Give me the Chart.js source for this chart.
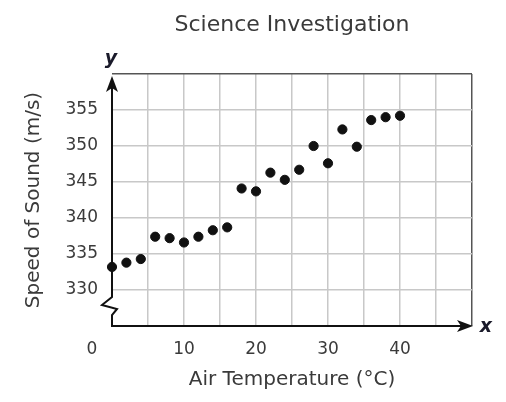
<!DOCTYPE html>
<html>
<head>
<meta charset="utf-8">
<script src="https://cdn.jsdelivr.net/npm/chart.js@4/dist/chart.umd.min.js"></script>
<style>
    body { margin: 0; background: #fff; }
    #wrap { width: 506px; height: 402px; position: relative; }
</style>
</head>
<body>
<div id="wrap"><canvas id="chart"></canvas></div>
<script>
    const airTemp = [0, 2, 4, 6, 8, 10, 12, 14, 16, 18, 20, 22, 24, 26, 28, 30, 32, 34, 36, 38, 40];
    const soundSpeed = [333.2, 333.8, 334.3, 337.4, 337.2, 336.6, 337.4, 338.3, 338.7, 344.1, 343.7,
                        346.3, 345.3, 346.7, 350.0, 347.6, 352.3, 349.9, 353.6, 354.0, 354.2];
    const xTickLabels = [0, 10, 20, 30, 40];
    const yTickLabels = [330, 335, 340, 345, 350, 355];
    const chartTitle = "Science Investigation";

    const textColor = "#3a3a3a";
    const tickFont = { family: "DejaVu Sans", size: 17 };

    function arrowHead(ctx, x, y, dir) {
        ctx.beginPath();
        if (dir === "up") {
            ctx.moveTo(x, y);
            ctx.lineTo(x + 6, y + 16);
            ctx.lineTo(x, y + 12);
            ctx.lineTo(x - 6, y + 16);
        } else {
            ctx.moveTo(x, y);
            ctx.lineTo(x - 16, y - 6);
            ctx.lineTo(x - 12, y);
            ctx.lineTo(x - 16, y + 6);
        }
        ctx.closePath();
        ctx.fill();
    }

    // axes with arrows and the broken y axis, drawn under the dots
    const axesPlugin = {
        id: "axes",
        beforeDatasetsDraw(chart) {
            let ctx = chart.ctx;
            let a = chart.chartArea;
            let x0 = a.left, y0 = a.bottom;
            ctx.save();
            ctx.strokeStyle = "#111";
            ctx.fillStyle = "#111";
            ctx.lineWidth = 2;
            ctx.beginPath();
            ctx.moveTo(x0, a.top + 12);
            ctx.lineTo(x0, y0 - 29);
            ctx.lineTo(x0 - 10, y0 - 21);
            ctx.lineTo(x0 + 5, y0 - 17);
            ctx.lineTo(x0, y0 - 11);
            ctx.lineTo(x0, y0);
            ctx.lineTo(a.right - 10, y0);
            ctx.stroke();
            arrowHead(ctx, x0, a.top + 2, "up");
            arrowHead(ctx, a.right + 1, y0, "right");

            ctx.font = "italic bold 19px 'DejaVu Sans'";
            ctx.fillStyle = "#1a1a2a";
            ctx.textAlign = "center";
            ctx.textBaseline = "middle";
            ctx.fillText("y", x0 - 1, a.top - 15);
            ctx.fillText("x", a.right + 14, y0 + 1);

            // title is centred over the plot area, not the canvas
            ctx.font = "22px 'DejaVu Sans'";
            ctx.fillStyle = textColor;
            ctx.fillText(chartTitle, (a.left + a.right) / 2, 25);

            // the 0 label sits left of the origin
            let xs = chart.scales.x;
            ctx.font = tickFont.size + "px " + tickFont.family;
            ctx.fillText(String(xTickLabels[0]), xs.getPixelForValue(xTickLabels[0]) - 20, y0 + 24);
            ctx.restore();
        }
    };

    function gridColor(c, edge) {
        let v = c.tick ? c.tick.value : null;
        if (v === edge) return "#555";
        if (c.index === 0) return "rgba(0,0,0,0)";
        return "#c8c8c8";
    }

    new Chart(document.getElementById("chart"), {
        type: "scatter",
        data: {
            datasets: [{
                data: airTemp.map((t, i) => ({ x: t, y: soundSpeed[i] })),
                backgroundColor: "#111",
                borderColor: "#111",
                pointRadius: 4.6,
                pointHoverRadius: 4.6,
                clip: false
            }]
        },
        options: {
            responsive: true,
            maintainAspectRatio: false,
            animation: false,
            layout: { padding: { left: 0, right: 34, top: 74, bottom: 0 } },
            plugins: {
                legend: { display: false },
                tooltip: { enabled: false },
                title: { display: false }
            },
            scales: {
                x: {
                    type: "linear",
                    min: 0, max: 50,
                    border: { display: false },
                    grid: { drawTicks: false, lineWidth: 1.5, color: c => gridColor(c, 50) },
                    ticks: {
                        stepSize: 5,
                        padding: 13,
                        color: textColor,
                        font: tickFont,
                        maxRotation: 0,
                        autoSkip: false,
                        callback: v => (xTickLabels.includes(v) && v !== xTickLabels[0]) ? String(v) : ""
                    },
                    title: {
                        display: true,
                        text: "Air Temperature (°C)",
                        color: textColor,
                        font: { family: "DejaVu Sans", size: 20 },
                        padding: { top: 0, bottom: 10 }
                    },
                    afterFit: s => { s.height = 76; }
                },
                y: {
                    type: "linear",
                    min: 325, max: 360,
                    border: { display: false },
                    grid: { drawTicks: false, lineWidth: 1.5, color: c => gridColor(c, 360) },
                    ticks: {
                        stepSize: 5,
                        padding: 14,
                        color: textColor,
                        font: tickFont,
                        autoSkip: false,
                        callback: v => yTickLabels.includes(v) ? String(v) : ""
                    },
                    title: {
                        display: true,
                        text: "Speed of Sound (m/s)",
                        color: textColor,
                        font: { family: "DejaVu Sans", size: 20 },
                        padding: { top: 22, bottom: 0 }
                    },
                    afterFit: s => { s.width = 112; }
                }
            }
        },
        plugins: [axesPlugin]
    });
</script>
</body>
</html>
